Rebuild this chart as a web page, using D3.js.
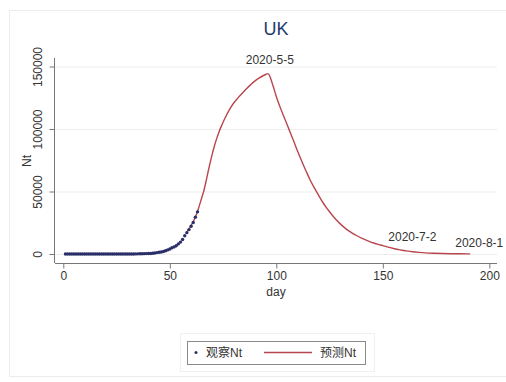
<!DOCTYPE html>
<html>
<head>
<meta charset="utf-8">
<script src="https://cdn.jsdelivr.net/npm/d3@7/dist/d3.min.js"></script>
<style>
  html, body { margin: 0; padding: 0; background: #fff; }
  svg { display: block; }
  text { font-family: "Liberation Sans", Arial, "Noto Sans CJK SC", sans-serif; fill: #333; }
</style>
</head>
<body>
<script>
// Observed counts, day 1 .. 63
const obsDays = d3.range(1, 64);
const obsValues = [2, 2,2,2,2,2,3,3,3,3, 8,8,9, 9,9,9,9,9,9,9,9,9,9,9, 13,
  13,13,15,20,23, 36,40,51,85,116,164,209,278,321,382,456,590,798,1140,1372,
  1543,1950,2626,3269,3983,5018,5683,6650,8077,9529,11658,14543,17089,19522,
  22141,25150,29474,33718];

// Predicted curve
const predDays = [58,59,60,61,62,63,64,65,66,67,68,69,70,71,72,73,74,75,76,78,80,82,84,86,88,90,92,94,95,96,
  97,98,99,100,102,104,106,108,110,112,114,116,118,120,122,124,126,128,130,132,134,136,138,140,
  143,146,149,152,155,158,161,164,167,170,174,178,182,186,191];
const predValues = [17500,20000,22800,26000,29500,34000,39500,45000,50800,58000,66000,73500,80500,86800,92300,
  97200,101500,105400,109000,115500,120800,124900,128600,132200,135500,138500,140900,142800,143600,144300,
  142000,137000,131500,126000,116500,108000,99500,91000,82200,74000,66200,58800,52500,46500,40800,36000,
  31600,27600,24100,21100,18500,16300,14400,12700,10500,8600,7200,5700,4400,3300,2500,1800,1300,900,600,
  400,250,150,100];

// Date labels placed on the predicted curve
const noteLabels = ["2020-5-5", "2020-7-2", "2020-8-1"];
const noteDays = [96, 154, 184];

const xTicks = [0, 50, 100, 150, 200];
const yTicks = [0, 50000, 100000, 150000];
const legendLabels = ["观察Nt", "预测Nt"];

const W = 506, H = 382;
const navy = "#2a2f68", maroon = "#b8464f";

const svg = d3.select("body").append("svg").attr("width", W).attr("height", H);

// faint outer frame
svg.append("rect").attr("x", 9.5).attr("y", 10.5).attr("width", 500).attr("height", 366)
  .attr("fill", "none").attr("stroke", "#ececec");

const x = d3.scaleLinear().domain([-3.9, 203.6]).range([55, 497]);
const y = d3.scaleLinear().domain([-7200, 155200]).range([263, 60]);

// gridlines
svg.append("g").selectAll("line").data(yTicks).join("line")
  .attr("x1", 55).attr("x2", 497)
  .attr("y1", d => y(d) + 0.5).attr("y2", d => y(d) + 0.5)
  .attr("stroke", "#ededed").attr("stroke-width", 1);

// axes
const xAxis = svg.append("g").attr("transform", "translate(0,263.5)")
  .call(d3.axisBottom(x).tickValues(xTicks).tickSize(5).tickPadding(3).tickFormat(d3.format("d")));
const yAxis = svg.append("g").attr("transform", "translate(54.5,0)")
  .call(d3.axisLeft(y).tickValues(yTicks).tickSize(5).tickPadding(3).tickFormat(d3.format("d")));
[xAxis, yAxis].forEach(g => {
  g.select(".domain").attr("stroke", "#777");
  g.selectAll(".tick line").attr("stroke", "#777");
  g.selectAll(".tick text").attr("font-size", 12).attr("fill", "#333")
    .style("font-family", '"Liberation Sans", Arial, sans-serif');
});
xAxis.select(".domain").attr("d", "M55,0H497");
yAxis.select(".domain").attr("d", "M0,58V263");
yAxis.selectAll(".tick text")
  .attr("transform", "rotate(-90)")
  .attr("text-anchor", "middle")
  .attr("x", 0).attr("y", -13).attr("dy", 0);

// axis titles
svg.append("text").attr("x", 276).attr("y", 296).attr("text-anchor", "middle")
  .attr("font-size", 12).text("day");
svg.append("text").attr("transform", "translate(31,161) rotate(-90)").attr("text-anchor", "middle")
  .attr("font-size", 12).text("Nt");

// title
svg.append("text").attr("x", 276).attr("y", 35).attr("text-anchor", "middle")
  .attr("font-size", 18).style("fill", "#24386e").text("UK");

// predicted line
const line = d3.line().x(d => x(d[0])).y(d => y(d[1])).curve(d3.curveMonotoneX);
svg.append("path")
  .datum(d3.zip(predDays, predValues))
  .attr("d", line)
  .attr("fill", "none").attr("stroke", maroon).attr("stroke-width", 1.4)
  .attr("stroke-linejoin", "round");

// observed points
svg.append("g").selectAll("circle").data(d3.zip(obsDays, obsValues)).join("circle")
  .attr("cx", d => x(d[0])).attr("cy", d => y(d[1])).attr("r", 1.7)
  .attr("fill", navy);

// date notes
const predAt = day => {
  const i = d3.bisectLeft(predDays, day);
  if (predDays[i] === day) return predValues[i];
  const d0 = predDays[i - 1], d1 = predDays[i];
  return predValues[i - 1] + (predValues[i] - predValues[i - 1]) * (day - d0) / (d1 - d0);
};
const notePos = [
  { anchor: "middle", dx: 2, dy: -10 },
  { anchor: "start", dx: -3, dy: -7 },
  { anchor: "start", dx: 0, dy: -7 }
];
svg.append("g").selectAll("text").data(noteLabels).join("text")
  .attr("x", (d, i) => x(noteDays[i]) + notePos[i].dx)
  .attr("y", (d, i) => y(predAt(noteDays[i])) + notePos[i].dy)
  .attr("text-anchor", (d, i) => notePos[i].anchor)
  .attr("font-size", 12)
  .text(d => d);

// legend
const lg = svg.append("g");
lg.append("rect").attr("x", 180.5).attr("y", 333.5).attr("width", 194).attr("height", 38)
  .attr("fill", "none").attr("stroke", "#f0f0f0");
lg.append("rect").attr("x", 187.5).attr("y", 341.5).attr("width", 178).attr("height", 23)
  .attr("fill", "#fff").attr("stroke", "#8a8a8a");
lg.append("circle").attr("cx", 196).attr("cy", 352.5).attr("r", 1.5).attr("fill", navy);
lg.append("text").attr("x", 206).attr("y", 357).attr("font-size", 12).text(legendLabels[0]);
lg.append("line").attr("x1", 264).attr("x2", 312).attr("y1", 352.5).attr("y2", 352.5)
  .attr("stroke", maroon).attr("stroke-width", 1.4);
lg.append("text").attr("x", 320).attr("y", 357).attr("font-size", 12).text(legendLabels[1]);
</script>
</body>
</html>
